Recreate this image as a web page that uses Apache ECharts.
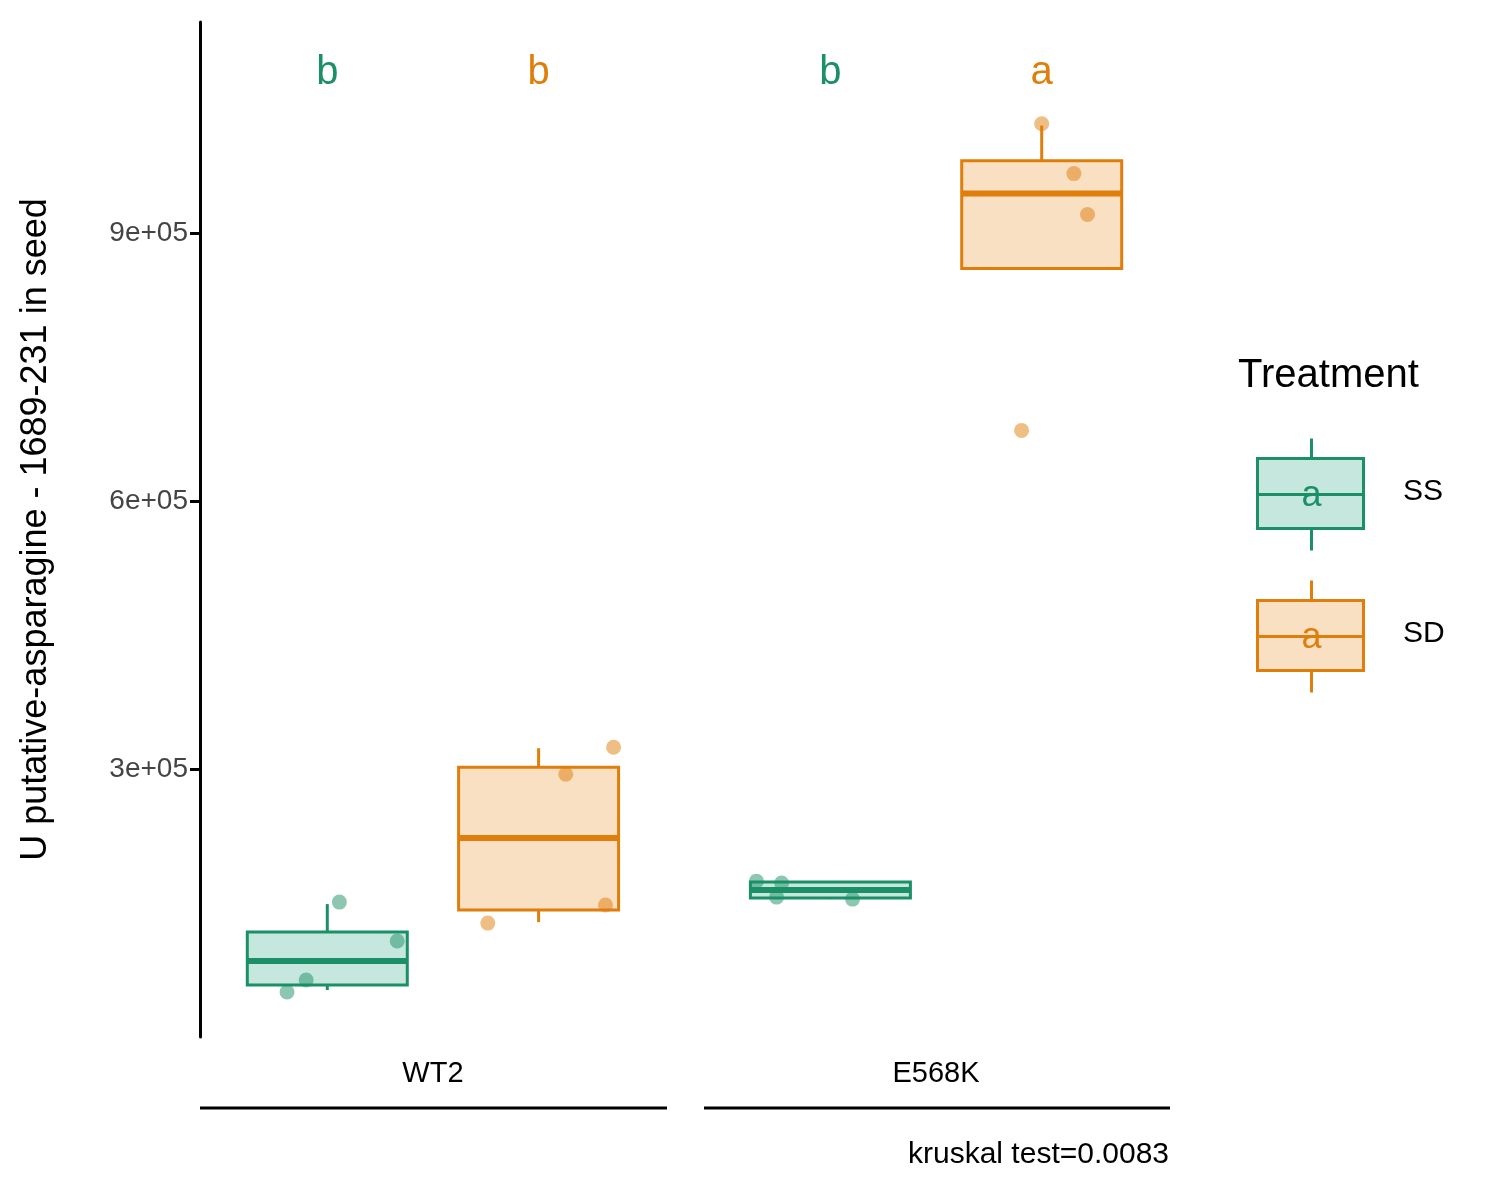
<!DOCTYPE html>
<html><head><meta charset="utf-8">
<script src="https://cdn.jsdelivr.net/npm/echarts@6/dist/echarts.min.js"></script>
<style>html,body{margin:0;background:#fff}#c{width:1500px;height:1200px}</style>
</head><body><div id="c"></div>
<script>
const categories = ['WT2', 'E568K'];
const groupOffset = { SS: -0.21, SD: 0.21 };
// [category index, whiskerLow, Q1, median, Q3, whiskerHigh]
const boxSS = [[0, 52600, 58200, 85100, 117500, 148900], [1, 154500, 155600, 164600, 173500, 174600]];
const boxSD = [[0, 128700, 142200, 222800, 302200, 323500], [1, 860800, 860800, 944800, 981700, 1020900]];
// points: [category index, x jitter, value]
const ptsSS = [[0, 0.024, 151100], [0, 0.139, 107500], [0, -0.042, 63800], [0, -0.080, 50400],
               [1, -0.147, 174600], [1, -0.097, 172400], [1, -0.107, 156700], [1, 0.044, 154500]];
const ptsSD = [[0, 0.149, 324600], [0, 0.054, 294400], [0, 0.133, 147800], [0, -0.101, 127600],
               [1, 0.0, 1023100], [1, 0.064, 967200], [1, 0.091, 921300], [1, -0.040, 679500]];
const lettersSS = ['b', 'b'];
const lettersSD = ['b', 'a'];
const letterY = 1080000;
const yTicks = [300000, 600000, 900000];
const GREEN = '#1b8f66', ORANGE = '#e07e0c';
const BOXW = 0.318;

function boxRender(color, fill) {
  return function (params, api) {
    const x = api.value(0), lo = api.value(1), q1 = api.value(2), md = api.value(3), q3 = api.value(4), hi = api.value(5);
    const pl = api.coord([x - BOXW / 2, q3]), pr = api.coord([x + BOXW / 2, q1]);
    const c = (v) => api.coord([x, v]);
    const ml = api.coord([x - BOXW / 2, md]), mr = api.coord([x + BOXW / 2, md]);
    const ls = { stroke: color, lineWidth: 3 };
    return { type: 'group', children: [
      { type: 'line', shape: { x1: c(lo)[0], y1: c(lo)[1], x2: c(q1)[0], y2: c(q1)[1] }, style: ls },
      { type: 'line', shape: { x1: c(q3)[0], y1: c(q3)[1], x2: c(hi)[0], y2: c(hi)[1] }, style: ls },
      { type: 'rect', shape: { x: pl[0], y: pl[1], width: pr[0] - pl[0], height: pr[1] - pl[1] }, style: { fill: fill, stroke: color, lineWidth: 3 } },
      { type: 'line', shape: { x1: ml[0], y1: ml[1], x2: mr[0], y2: mr[1] }, style: { stroke: color, lineWidth: 6 } }
    ]};
  };
}
const mapBox = (arr, g) => arr.map(d => [d[0] + 1 + groupOffset[g], d[1], d[2], d[3], d[4], d[5]]);
const mapPts = (arr, g) => arr.map(d => [d[0] + 1 + groupOffset[g] + d[1], d[2]]);
const mapLet = (arr, g) => arr.map((l, i) => ({ value: [i + 1 + groupOffset[g], letterY], label: { formatter: l } }));

function legendKey(y, color, fill) {
  return { type: 'group', left: 1255, top: y, children: [
    { type: 'line', shape: { x1: 54, y1: 0, x2: 54, y2: 112 }, style: { stroke: color, lineWidth: 3 } },
    { type: 'rect', shape: { x: 0, y: 20, width: 106, height: 70 }, style: { fill: '#fff', stroke: color, lineWidth: 3 } },
    { type: 'rect', shape: { x: 0, y: 20, width: 106, height: 70 }, style: { fill: fill, stroke: color, lineWidth: 3 } },
    { type: 'line', shape: { x1: 0, y1: 56, x2: 106, y2: 56 }, style: { stroke: color, lineWidth: 3 } },
    { type: 'text', x: 54, y: 58, style: { text: 'a', fill: color, font: '36px Liberation Sans', align: 'center', verticalAlign: 'middle' } }
  ]};
}

const chart = echarts.init(document.getElementById('c'));
chart.setOption({
  animation: false,
  grid: { left: 200, right: 330, top: 22, bottom: 163 },
  xAxis: { type: 'value', min: 0.537, max: 2.465, axisLine: { show: false }, axisTick: { show: false }, splitLine: { show: false },
    axisLabel: { customValues: [1, 2], formatter: v => categories[Math.round(v) - 1] || '', fontSize: 29, color: '#000', margin: 22, fontFamily: 'Liberation Sans' } },
  yAxis: { type: 'value', min: 0, max: 1137000, splitLine: { show: false },
    name: 'U putative-asparagine - 1689-231 in seed', nameLocation: 'middle', nameGap: 146,
    nameTextStyle: { fontSize: 36, color: '#000', fontFamily: 'Liberation Sans' },
    axisLine: { show: true, lineStyle: { color: '#000', width: 3 } },
    axisTick: { show: true, length: 10, lineStyle: { color: '#000', width: 3 }, customValues: yTicks },
    axisLabel: { customValues: yTicks, formatter: v => (v / 1e5) + 'e+05', fontSize: 28, color: '#444', fontFamily: 'Liberation Sans', margin: 12 } },
  series: [
    { type: 'custom', name: 'SS', renderItem: boxRender(GREEN, 'rgba(27,158,119,0.25)'), data: mapBox(boxSS, 'SS'), z: 2 },
    { type: 'custom', name: 'SD', renderItem: boxRender(ORANGE, 'rgba(230,130,14,0.25)'), data: mapBox(boxSD, 'SD'), z: 2 },
    { type: 'scatter', data: mapPts(ptsSS, 'SS'), symbolSize: 15, itemStyle: { color: GREEN, opacity: 0.5 }, z: 3 },
    { type: 'scatter', data: mapPts(ptsSD, 'SD'), symbolSize: 15, itemStyle: { color: ORANGE, opacity: 0.5 }, z: 3 },
    { type: 'scatter', data: mapLet(lettersSS, 'SS'), symbolSize: 0, itemStyle: { opacity: 1 }, label: { show: true, position: 'inside', fontSize: 40, color: GREEN, fontFamily: 'Liberation Sans' } },
    { type: 'scatter', data: mapLet(lettersSD, 'SD'), symbolSize: 0, itemStyle: { opacity: 1 }, label: { show: true, position: 'inside', fontSize: 40, color: ORANGE, fontFamily: 'Liberation Sans' } }
  ],
  graphic: [
    { type: 'line', shape: { x1: 200, y1: 1108, x2: 667, y2: 1108 }, style: { stroke: '#000', lineWidth: 3 } },
    { type: 'line', shape: { x1: 704, y1: 1108, x2: 1170, y2: 1108 }, style: { stroke: '#000', lineWidth: 3 } },
    { type: 'text', right: 331, top: 1140, style: { text: 'kruskal test=0.0083', font: '30px Liberation Sans', fill: '#000' } },
    { type: 'text', left: 1238, top: 356, style: { text: 'Treatment', font: '40px Liberation Sans', fill: '#000' } },
    legendKey(436, GREEN, 'rgba(27,158,119,0.25)'),
    legendKey(578, ORANGE, 'rgba(230,130,14,0.25)'),
    { type: 'text', left: 1403, top: 477, style: { text: 'SS', font: '30px Liberation Sans', fill: '#000' } },
    { type: 'text', left: 1403, top: 619, style: { text: 'SD', font: '30px Liberation Sans', fill: '#000' } }
  ]
});
</script></body></html>
